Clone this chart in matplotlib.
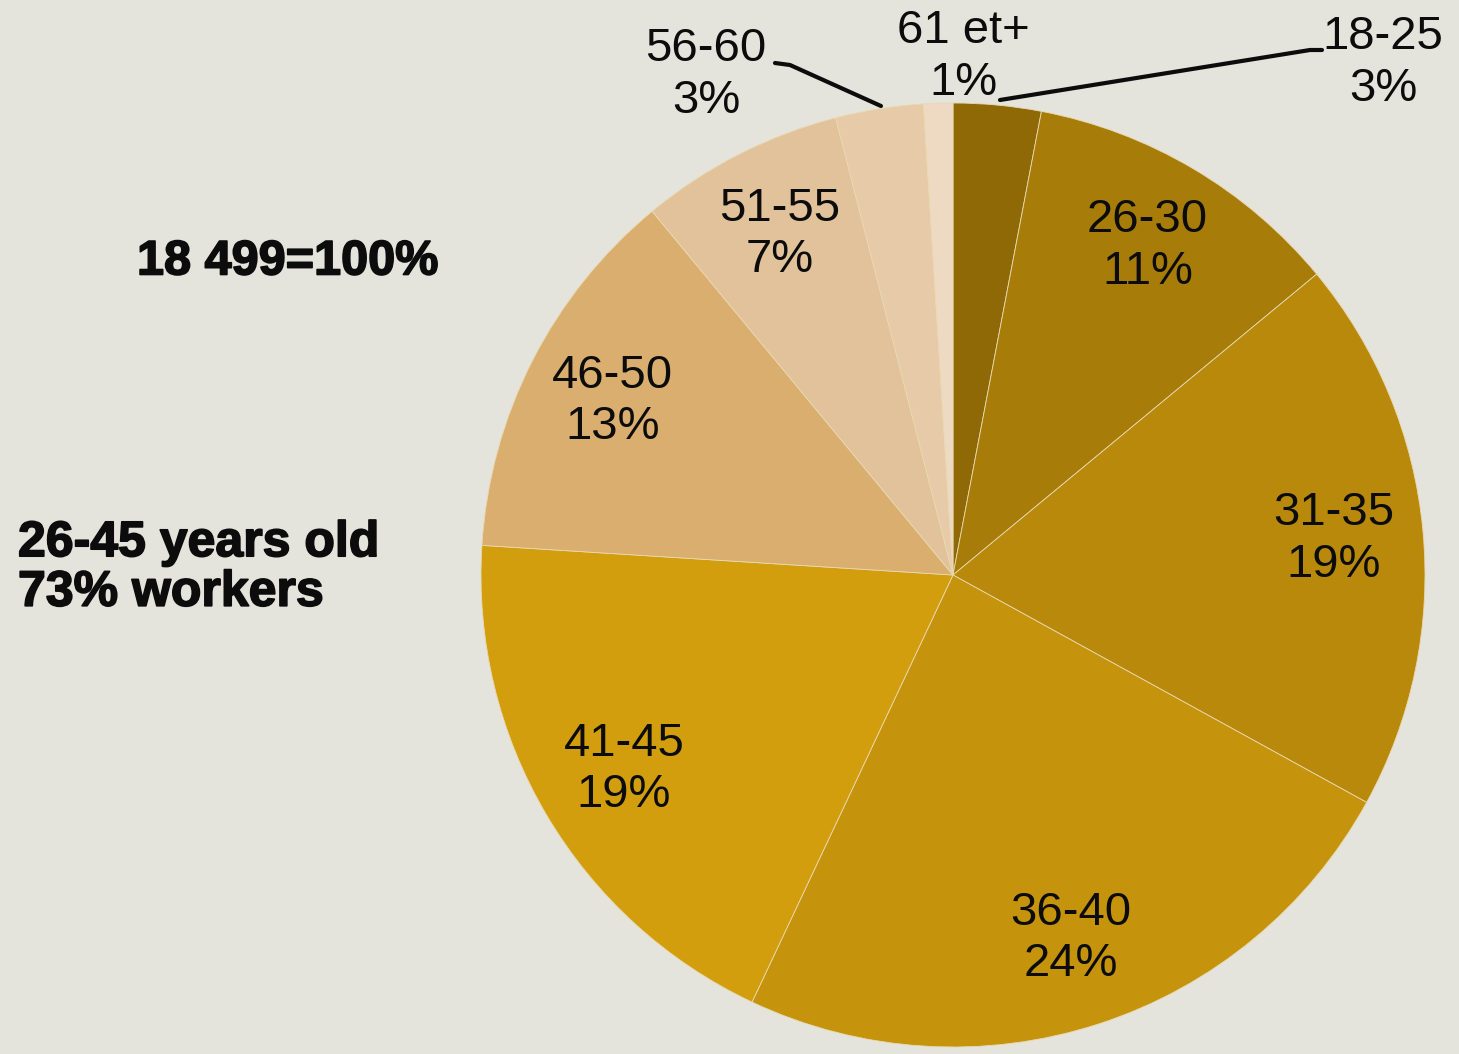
import numpy as np
import matplotlib
matplotlib.use("Agg")
import matplotlib.pyplot as plt
import matplotlib.patheffects as pe

# Age groups of the 18 499 workers
age_groups = ["18-25", "26-30", "31-35", "36-40", "41-45", "46-50", "51-55", "56-60", "61 et+"]
shares = [3, 11, 19, 24, 19, 13, 7, 3, 1]
colors = ["#8f6906", "#a77c08", "#b8890b", "#c5930c", "#d29e0e",
          "#d9ae6f", "#e2c29b", "#e7caa7", "#eed9c3"]

bg = "#e4e4dc"
W, H = 1459, 1054
fig = plt.figure(figsize=(W / 100, H / 100), dpi=100, facecolor=bg)
ax = fig.add_axes([0, 0, 1, 1])
ax.set_facecolor(bg)

cx, cy, r = 953, 479, 472
wedges, _ = ax.pie(shares, colors=colors, startangle=90, counterclock=False,
                   center=(cx, cy), radius=r, frame=True,
                   wedgeprops=dict(linewidth=0.6, edgecolor="#e9d9b0"))
ax.set_xlim(0, W)
ax.set_ylim(0, H)
ax.set_aspect("equal")
ax.axis("off")

font = "Liberation Sans"
fs = 34
ink = "#0c0c0c"
ls = 1.22

# labels inside the larger slices
inside = {"26-30", "31-35", "36-40", "41-45", "46-50", "51-55"}
cum = np.cumsum([0] + shares)
for i, (name, v) in enumerate(zip(age_groups, shares)):
    if name not in inside:
        continue
    mid = 90 - 360 * (cum[i] + v / 2) / sum(shares)
    x = cx + 0.81 * r * np.cos(np.radians(mid))
    y = cy + 0.81 * r * np.sin(np.radians(mid))
    ax.text(x, y, f"{name}\n{v}%", ha="center", va="center", fontsize=fs,
            family=font, color=ink, linespacing=ls)

# small slices labelled outside with leader lines
ax.text(1383, H - 63, f"{age_groups[0]}\n{shares[0]}%", ha="center", va="center",
        fontsize=fs, family=font, color=ink, linespacing=ls)
ax.plot([1000, 1310, 1322], [H - 100, H - 50, H - 50], color=ink, lw=3,
        solid_capstyle="round")
ax.text(963, H - 57, f"{age_groups[8]}\n{shares[8]}%", ha="center", va="center",
        fontsize=fs, family=font, color=ink, linespacing=ls)
ax.text(706, H - 75, f"{age_groups[7]}\n{shares[7]}%", ha="center", va="center",
        fontsize=fs, family=font, color=ink, linespacing=ls)
ax.plot([775, 790, 881], [H - 63, H - 65, H - 106], color=ink, lw=3,
        solid_capstyle="round")

# annotations
heavy = [pe.withStroke(linewidth=1.2, foreground=ink)]
ax.text(137, H - 262, "18 499=100%", ha="left", va="center", fontsize=35,
        family=font, fontweight="bold", color=ink, path_effects=heavy)
ax.text(18, H - 568, "26-45 years old\n73% workers", ha="left", va="center",
        fontsize=36, family=font, fontweight="bold", color=ink,
        linespacing=1.1, path_effects=heavy)

fig.savefig("out.png", dpi=100, facecolor=bg)
